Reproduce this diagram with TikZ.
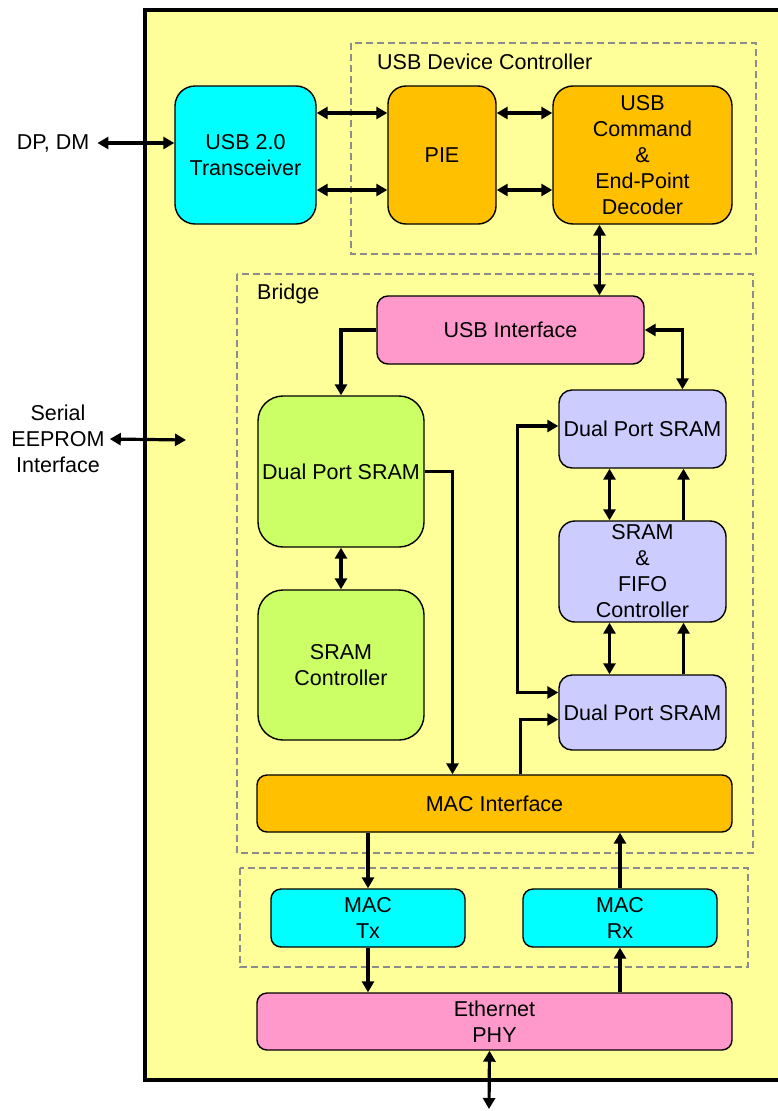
\documentclass[tikz,border=0pt]{standalone}
\usepackage{fontspec}
\setmainfont{Liberation Sans}
\usetikzlibrary{arrows.meta}
\definecolor{chipyellow}{HTML}{FFFF99}
\definecolor{xcvrcyan}{HTML}{00FFFF}
\definecolor{ctrlorange}{HTML}{FFC000}
\definecolor{ifpink}{HTML}{FF99CC}
\definecolor{ramgreen}{HTML}{CCFF66}
\definecolor{ramlilac}{HTML}{CCCCFF}
\begin{document}
\begin{tikzpicture}[x=1pt,y=-1pt,
        blk/.style={draw=black, line width=1.4pt, rounded corners=#1, align=center,
            inner sep=0pt, font=\fontsize{21.5}{26}\selectfont},
        grp/.style={draw=black!45, dash pattern=on 7pt off 4pt, line width=1.3pt},
        lbl/.style={font=\fontsize{21.5}{26}\selectfont, align=center, inner sep=0pt},
        sig/.style={line width=3.2pt, -{Triangle[length=11pt,width=12pt]}},
        sig2/.style={line width=3.2pt, {Triangle[length=11pt,width=12pt]}-{Triangle[length=11pt,width=12pt]}}]

        \useasboundingbox (0,0) rectangle (778,1111);
        \clip (0,0) rectangle (778,1111);

        % chip outline
        \draw[line width=4.5pt, fill=chipyellow] (145,10) rectangle (800,1080);

        % groups
        \draw[grp] (351,43) rectangle (756,254);
        \node[lbl, anchor=west] (udclbl) at (377,62) {USB Device Controller};
        \draw[grp] (237,274) rectangle (753,853);
        \node[lbl, anchor=west] (brlbl) at (257,294) {Bridge};
        \draw[grp] (240,868) rectangle (748,967);

        % blocks
        \node[blk=20pt, fill=xcvrcyan, minimum width=141, minimum height=138] (trans) at (245.5,155) {USB 2.0\\Transceiver};
        \node[blk=18pt, fill=ctrlorange, minimum width=108, minimum height=138] (pie) at (442,155) {PIE};
        \node[blk=20pt, fill=ctrlorange, minimum width=179, minimum height=138] (dec) at (642.5,155) {USB\\Command\\\&\\End-Point\\Decoder};
        \node[blk=11pt, fill=ifpink, minimum width=267, minimum height=68] (usbif) at (510.5,330) {USB Interface};
        \node[blk=25pt, fill=ramgreen, minimum width=166, minimum height=151] (dpl) at (341,471.5) {Dual Port SRAM};
        \node[blk=25pt, fill=ramgreen, minimum width=166, minimum height=150] (sramc) at (341,665) {SRAM\\Controller};
        \node[blk=13pt, fill=ramlilac, minimum width=167, minimum height=78] (dpr1) at (642.5,429) {Dual Port SRAM};
        \node[blk=16pt, fill=ramlilac, minimum width=167, minimum height=101] (fifo) at (642.5,571.5) {SRAM\\\&\\FIFO\\Controller};
        \node[blk=13pt, fill=ramlilac, minimum width=167, minimum height=75] (dpr2) at (642.5,712.5) {Dual Port SRAM};
        \node[blk=10pt, fill=ctrlorange, minimum width=475, minimum height=57] (macif) at (494.5,803.5) {MAC Interface};
        \node[blk=10pt, fill=xcvrcyan, minimum width=194, minimum height=58] (tx) at (368,918) {MAC\\Tx};
        \node[blk=10pt, fill=xcvrcyan, minimum width=194, minimum height=58] (rx) at (620,918) {MAC\\Rx};
        \node[blk=10pt, fill=ifpink, minimum width=475, minimum height=57] (phy) at (494.5,1021.5) {Ethernet\\PHY};

        % outside signals
        \node[lbl, inner sep=8pt] (dpdm) at (53,143) {DP, DM};
        \node[lbl, inner sep=5pt] (eeprom) at (58,439) {Serial\\EEPROM\\Interface};
        \coordinate (eeend) at (186,440);
        \coordinate (ethout) at (489,1109);

        \draw[sig2] (dpdm.east) -- ([yshift=12pt]trans.west);
        \draw[sig2] (eeprom.east) -- (eeend);

        % usb side
        \draw[sig2] ([yshift=42pt]trans.east) -- ([yshift=42pt]trans.east -| pie.west);
        \draw[sig2] ([yshift=-35pt]trans.east) -- ([yshift=-35pt]trans.east -| pie.west);
        \draw[sig2] ([yshift=42pt]pie.east) -- ([yshift=42pt]pie.east -| dec.west);
        \draw[sig2] ([yshift=-35pt]pie.east) -- ([yshift=-35pt]pie.east -| dec.west);
        \draw[sig2] ([xshift=-43pt]dec.south) -- ([xshift=-43pt]dec.south |- usbif.north);

        % bridge
        \draw[sig] (usbif.west) -| (dpl.north);
        \draw[sig2] (usbif.east) -| ([xshift=40pt]dpr1.north);
        \draw[sig2] (dpl.south) -- (sramc.north);
        \draw[sig] (dpl.east) -| ([xshift=-42pt]macif.north);
        \draw[sig2] ([yshift=3pt]dpr1.west) -- ++(-41,0) |- ([yshift=20pt]dpr2.west);
        \draw[sig] ([xshift=26pt]macif.north) |- ([yshift=-7pt]dpr2.west);
        \draw[sig2] ([xshift=-33pt]dpr1.south) -- ([xshift=-33pt]dpr1.south |- fifo.north);
        \draw[sig] ([xshift=41pt]fifo.north) -- ([xshift=41pt]fifo.north |- dpr1.south);
        \draw[sig2] ([xshift=-33pt]fifo.south) -- ([xshift=-33pt]fifo.south |- dpr2.north);
        \draw[sig] ([xshift=41pt]dpr2.north) -- ([xshift=41pt]dpr2.north |- fifo.south);

        % mac
        \draw[sig] (tx.north |- macif.south) -- (tx.north);
        \draw[sig] (tx.south) -- (tx.south |- phy.north);
        \draw[sig] (rx.south |- phy.north) -- (rx.south);
        \draw[sig] (rx.north) -- (rx.north |- macif.south);
        \draw[sig2] ([xshift=-5pt]phy.south) -- (ethout);

    \end{tikzpicture}
\end{document}
